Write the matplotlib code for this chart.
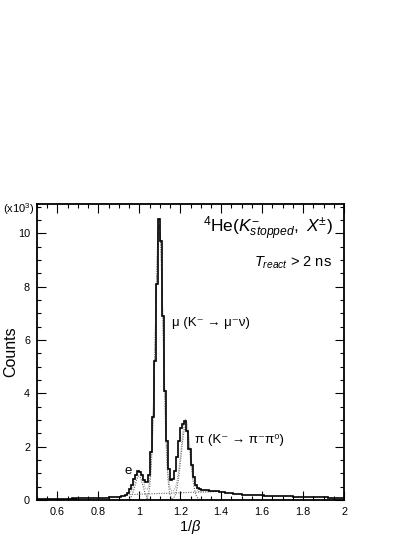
import numpy as np
import matplotlib
matplotlib.use("Agg")
import matplotlib.pyplot as plt
from matplotlib.ticker import MultipleLocator

plt.rcParams['font.family'] = ['Liberation Sans', 'DejaVu Sans']
plt.rcParams['mathtext.fontset'] = 'custom'
plt.rcParams['mathtext.rm'] = 'Liberation Sans'
plt.rcParams['mathtext.it'] = 'Liberation Sans:italic'
plt.rcParams['mathtext.bf'] = 'Liberation Sans:bold'

# histogram: 1/beta from 0.5 to 2.0, bin width 0.01, counts in units of 10^3
bin_lo = 0.5
bin_hi = 2.0
counts = [
    0.03, 0.04, 0.03, 0.04, 0.04, 0.03, 0.04, 0.04, 0.05, 0.04,
    0.04, 0.05, 0.05, 0.04, 0.05, 0.05, 0.05, 0.06, 0.05, 0.06,
    0.06, 0.06, 0.07, 0.06, 0.07, 0.07, 0.07, 0.08, 0.07, 0.08,
    0.08, 0.09, 0.08, 0.09, 0.09, 0.10, 0.10, 0.11, 0.11, 0.12,
    0.13, 0.15, 0.16, 0.19, 0.27, 0.40, 0.57, 0.77, 0.95, 1.07,
    1.06, 0.93, 0.76, 0.68, 0.95, 1.80, 3.10, 5.20, 8.10, 10.55,
    9.70, 6.90, 4.10, 2.20, 1.15, 0.75, 0.78, 1.10, 1.60, 2.20,
    2.70, 2.85, 2.95, 2.60, 1.90, 1.30, 0.85, 0.58, 0.45, 0.40,
    0.37, 0.36, 0.37, 0.36, 0.35, 0.35, 0.34, 0.33, 0.32, 0.31,
    0.30, 0.29, 0.28, 0.27, 0.26, 0.25, 0.24, 0.23, 0.22, 0.21,
    0.20, 0.20, 0.19, 0.19, 0.18, 0.18, 0.18, 0.17, 0.17, 0.17,
    0.17, 0.16, 0.16, 0.16, 0.16, 0.15, 0.15, 0.15, 0.15, 0.15,
    0.15, 0.14, 0.14, 0.14, 0.14, 0.13, 0.13, 0.13, 0.13, 0.12,
    0.12, 0.12, 0.12, 0.11, 0.11, 0.11, 0.11, 0.10, 0.10, 0.10,
    0.10, 0.10, 0.09, 0.09, 0.09, 0.09, 0.08, 0.08, 0.08, 0.08,
]

# gaussian fit components: amplitude, mean, sigma, drawn range
peak_names = ['e', 'mu', 'pi']
peak_amp = [0.90, 10.30, 2.75]
peak_mean = [0.998, 1.097, 1.226]
peak_sigma = [0.019, 0.019, 0.022]
peak_range = [(0.94, 1.06), (1.035, 1.16), (1.16, 1.295)]

# linear background of the fit
bg_x = [0.94, 1.38]
bg_y = [0.20, 0.32]

edges = np.linspace(bin_lo, bin_hi, len(counts) + 1)

fig = plt.figure(figsize=(4.15, 5.37), dpi=100)
ax = fig.add_axes([37 / 415, 1 - 500 / 537, (344 - 37) / 415, (500 - 204) / 537])

ax.stairs(counts, edges, color='black', lw=1.2, zorder=3)

def gauss(x, a, m, s):
    return a * np.exp(-0.5 * ((x - m) / s) ** 2)

for a, m, s, (lo, hi) in zip(peak_amp, peak_mean, peak_sigma, peak_range):
    xx = np.linspace(lo, hi, 200)
    ax.plot(xx, gauss(xx, a, m, s), ls=(0, (1, 1.2)), color='0.4', lw=0.8)

ax.plot(bg_x, bg_y, ls=(0, (1, 1.2)), color='0.4', lw=0.8)

# total fit
xt = np.linspace(bg_x[0], bg_x[1], 400)
tot = np.interp(xt, bg_x, bg_y)
for a, m, s in zip(peak_amp, peak_mean, peak_sigma):
    tot = tot + gauss(xt, a, m, s)
ax.plot(xt, tot, ls=(0, (1, 1.2)), color='0.55', lw=0.7)

ax.set_xlim(0.5, 2.0)
ax.set_ylim(0, 11.1)
ax.xaxis.set_major_locator(MultipleLocator(0.2))
ax.xaxis.set_minor_locator(MultipleLocator(0.05))
ax.yaxis.set_major_locator(MultipleLocator(2))
ax.yaxis.set_minor_locator(MultipleLocator(0.5))
ax.tick_params(which='both', direction='in', top=True, right=True, labelsize=7.8, width=0.8)
ax.tick_params(which='major', length=6.5, pad=5)
ax.tick_params(which='minor', length=3.2)
ax.xaxis.set_major_formatter(plt.FuncFormatter(lambda v, p: ('%g' % round(v, 2))))
ax.yaxis.set_major_formatter(plt.FuncFormatter(lambda v, p: ('%g' % v)))
for sp in ax.spines.values():
    sp.set_linewidth(1.3)

ax.set_ylabel('Counts', fontsize=11.5)
ax.yaxis.set_label_coords(-0.062, 0.5)
ax.set_xlabel(r'1/$\beta$', fontsize=10.5)
ax.xaxis.set_label_coords(0.5, -0.06)
fig.text(3 / 415, 1 - 209 / 537, r'(x10$^3$)', fontsize=8, va='center', ha='left')

ax.text(0.965, 0.917, r'$^4\mathrm{He}(K^{-}_{stopped},\ X^{\pm})$', transform=ax.transAxes,
        ha='right', va='center', fontsize=12.5)
ax.text(0.96, 0.80, r'$T_{react}$ > 2 ns', transform=ax.transAxes,
        ha='right', va='center', fontsize=10.5)
ax.text(1.16, 6.65, 'μ (K⁻ → μ⁻ν)', ha='left', va='center', fontsize=9.5)
ax.text(1.272, 2.25, 'π (K⁻ → π⁻π⁰)', ha='left', va='center', fontsize=9.5)
ax.text(0.945, 1.08, 'e', ha='center', va='center', fontsize=9.5)

fig.savefig('out.png', dpi=100)
